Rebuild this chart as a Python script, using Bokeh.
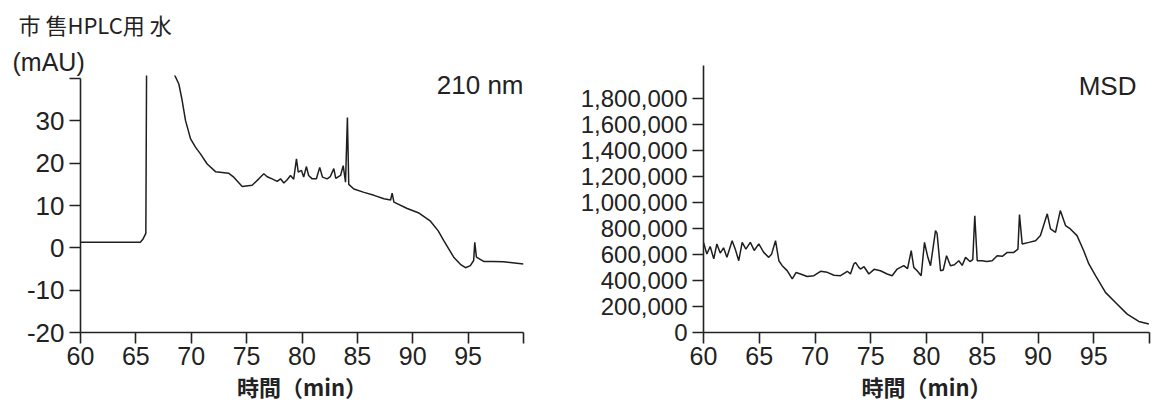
from bokeh.plotting import figure
from bokeh.layouts import row, column
from bokeh.models import Range1d, FixedTicker, NumeralTickFormatter, Label, Title
from bokeh.embed import file_html
from bokeh.resources import INLINE

# ---------------- data ----------------
x_ticks = [60, 65, 70, 75, 80, 85, 90, 95, 100]
uv_ticks = [-20, -10, 0, 10, 20, 30, 40]
ms_ticks = [0, 200000, 400000, 600000, 800000, 1000000, 1200000, 1400000, 1600000, 1800000]

uv_time = [60.0, 65.4, 65.65, 65.9, 65.97, 66.05, 68.3, 68.43, 68.88, 69.18,
           69.48, 69.93, 70.38, 70.83, 71.44, 72.19, 73.39, 73.84, 74.6, 75.5,
           76.1, 76.55, 76.86, 77.3, 77.76, 78.06, 78.36, 78.66, 78.96, 79.25,
           79.5, 79.66, 79.95, 80.15, 80.4, 80.6, 80.92, 81.3, 81.6, 81.85,
           82.27, 82.55, 82.87, 83.05, 83.48, 83.72, 83.93, 84.1, 84.22, 84.68,
           85.6, 86.5, 87.4, 88.0, 88.14, 88.3, 89.5, 90.5, 91.6, 92.3,
           92.8, 93.7, 94.3, 94.76, 95.2, 95.5, 95.6, 95.75, 96.4, 97.2,
           98.2, 99.0, 100.0]
uv_mau = [1.3, 1.3, 2.1, 3.4, 45.0, 60.0, 60.0, 41.2, 38.7, 34.8,
          30.1, 25.8, 23.8, 22.2, 19.8, 18.0, 17.6, 16.7, 14.5, 14.8,
          16.3, 17.5, 16.8, 16.3, 15.7, 16.3, 15.3, 16.1, 17.1, 16.2,
          21.0, 17.9, 18.3, 16.7, 19.2, 17.1, 16.3, 16.3, 19.0, 16.7,
          16.3, 16.8, 18.7, 16.4, 17.1, 19.4, 15.5, 30.8, 15.0, 13.9,
          13.1, 12.4, 11.6, 11.3, 12.9, 10.8, 9.3, 8.3, 6.3, 4.0,
          1.7, -2.2, -3.9, -4.7, -4.2, -3.0, 1.3, -2.2, -3.2, -3.2,
          -3.3, -3.5, -3.8]

ms_time = [60.0, 60.3, 60.6, 60.92, 61.2, 61.5, 61.8, 62.1, 62.57, 62.85,
           63.16, 63.47, 63.8, 64.2, 64.55, 64.96, 65.4, 65.85, 66.1, 66.46,
           66.76, 67.06, 67.5, 67.96, 68.3, 68.7, 69.3, 69.9, 70.5, 71.1,
           71.7, 72.29, 72.9, 73.18, 73.48, 73.63, 73.93, 74.08, 74.4, 74.83,
           75.3, 75.87, 76.47, 76.92, 77.37, 77.96, 78.3, 78.63, 78.86, 79.2,
           79.52, 79.82, 80.12, 80.36, 80.81, 80.95, 81.26, 81.5, 81.8, 82.15,
           82.5, 82.9, 83.2, 83.5, 83.9, 84.15, 84.33, 84.55, 84.99, 85.4,
           85.89, 86.34, 86.8, 87.24, 87.83, 88.2, 88.34, 88.58, 89.18, 89.78,
           90.22, 90.83, 91.12, 91.57, 92.0, 92.47, 92.9, 93.5, 94.1, 94.56,
           95.16, 96.05, 96.95, 98.0, 99.04, 99.94]
ms_counts = [692000, 603000, 660000, 565000, 680000, 610000, 650000, 577000, 705000, 640000,
             551000, 692000, 640000, 692000, 630000, 680000, 615000, 577000, 600000, 705000,
             551000, 513000, 475000, 411000, 460000, 449000, 430000, 436000, 470000, 462000,
             440000, 436000, 470000, 449000, 526000, 538000, 500000, 487000, 505000, 449000,
             485000, 474000, 449000, 436000, 487000, 513000, 490000, 628000, 500000, 470000,
             436000, 692000, 577000, 513000, 782000, 760000, 474000, 480000, 590000, 513000,
             520000, 551000, 515000, 577000, 545000, 560000, 897000, 551000, 551000, 545000,
             551000, 590000, 585000, 615000, 615000, 640000, 905000, 680000, 692000, 705000,
             744000, 911000, 795000, 769000, 936000, 821000, 795000, 744000, 628000, 526000,
             436000, 308000, 231000, 141000, 85000, 65000]

title_text = "市 售HPLC用 水"
unit_text = "(mAU)"
uv_name = "210 nm"
ms_name = "MSD"
x_label = "時間（min）"

INK = "#222222"
LINE = "#1e1e1e"
SANS = "Liberation Sans"
CJK = "Noto Sans CJK JP"


def style_axes(p, ysize):
    for ax in (p.xaxis[0], p.yaxis[0]):
        ax.axis_line_color = INK
        ax.axis_line_width = 1.6
        ax.major_tick_line_color = INK
        ax.major_tick_line_width = 1.6
        ax.minor_tick_line_color = None
        ax.major_tick_in = 0
        ax.major_label_text_font = SANS
        ax.major_label_text_color = INK
    p.xaxis.major_tick_out = 11
    p.yaxis.major_tick_out = 11
    p.xaxis.major_label_text_font_size = "25px"
    p.yaxis.major_label_text_font_size = ysize
    p.xaxis.major_label_standoff = 3
    p.yaxis.major_label_standoff = 5
    p.xaxis.ticker = FixedTicker(ticks=x_ticks)
    p.xaxis.major_label_overrides = {100: ""}
    p.xaxis.axis_label = x_label
    p.xaxis.axis_label_text_font = CJK
    p.xaxis.axis_label_text_font_size = "22px"
    p.xaxis.axis_label_text_font_style = "bold"
    p.xaxis.axis_label_text_color = INK
    p.xaxis.axis_label_standoff = 2
    p.xgrid.grid_line_color = None
    p.ygrid.grid_line_color = None
    p.outline_line_color = None
    p.background_fill_color = "white"
    p.border_fill_color = "white"


# ---------------- left: UV 210 nm ----------------
p1 = figure(width=575, height=408, output_backend="svg", toolbar_location=None,
            x_range=Range1d(60, 100), y_range=Range1d(-20, 40.71),
            min_border_left=80, min_border_right=52, min_border_top=75, min_border_bottom=76)
style_axes(p1, "26px")
p1.yaxis.ticker = FixedTicker(ticks=uv_ticks)
p1.yaxis.formatter = NumeralTickFormatter(format="0")
p1.yaxis.bounds = (-20, 40)
p1.yaxis.major_label_overrides = {40: ""}
p1.line(uv_time, uv_mau, line_color=LINE, line_width=1.5)

p1.add_layout(Title(text=unit_text, align="left", offset=-68, standoff=0,
                    text_font=SANS, text_font_size="25px", text_font_style="normal",
                    text_color=INK), "above")
p1.add_layout(Title(text=title_text, align="left", offset=-62, standoff=8,
                    vertical_align="top",
                    text_font=CJK, text_font_size="22px", text_font_style="normal",
                    text_color=INK), "above")
p1.add_layout(Label(x=100.0, y=38.35, text=uv_name, text_font=SANS, text_font_size="26px",
                    text_color=INK, text_baseline="middle", text_align="right"))

# ---------------- right: MSD ----------------
p2 = figure(width=578, height=408, output_backend="svg", toolbar_location=None,
            x_range=Range1d(60, 100), y_range=Range1d(0, 2050000),
            min_border_left=128, min_border_right=4, min_border_top=65, min_border_bottom=76)
style_axes(p2, "24px")
p2.yaxis.ticker = FixedTicker(ticks=ms_ticks)
p2.yaxis.formatter = NumeralTickFormatter(format="0,0")
p2.line(ms_time, ms_counts, line_color=LINE, line_width=1.5)

p2.add_layout(Label(x=98.83, y=1896000, text=ms_name, text_font=SANS, text_font_size="26px",
                    text_color=INK, text_baseline="middle", text_align="right"))

layout = row(column(p1), column(p2))
open("out.html", "w").write(file_html(layout, INLINE))
